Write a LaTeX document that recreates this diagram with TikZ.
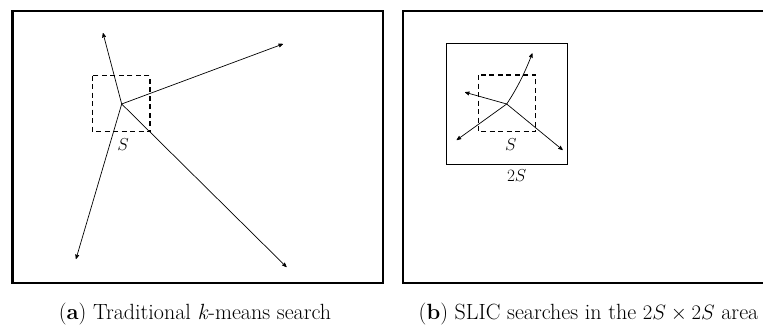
\documentclass[tikz,border=0pt]{standalone}
\usepackage{tikz}
\usetikzlibrary{arrows}
\tikzset{
    frame/.style={
           draw=black, line width=2.6pt,
           },
    searchbox/.style={
           draw=black, line width=0.8pt,
           },
    cellbox/.style={
           draw=black, line width=1.3pt,
           dash pattern=on 5pt off 3.5pt,
           },
    ray/.style={
           -stealth', line width=0.7pt,
           },
    lab/.style={
           font=\fontsize{19}{21}\selectfont,
           inner sep=1pt,
           },
    caption/.style={
           font=\fontsize{22}{25}\selectfont,
           inner sep=0pt, anchor=base,
           },
}
\begin{document}
\begin{tikzpicture}[x=1pt, y=-1pt, >=stealth']

 \useasboundingbox (0,0) rectangle (763,324);

 % (a) traditional k-means search
 \draw[frame] (12.5,11) rectangle (383,283);
 \draw[cellbox] (92.7,75.7) rectangle (150,131.7);
 \coordinate (cA) at (121.7,104);
 \coordinate (A1) at (103,33);
 \coordinate (A2) at (283,44);
 \coordinate (A3) at (76,259);
 \coordinate (A4) at (286.5,267);
 \foreach \e in {A1,A2,A3,A4}
   \draw[ray] (cA) -- (\e);
 \node[lab] (SA) at (123,145) {$S$};

 % (b) SLIC, 2S x 2S area
 \draw[frame] (403,11) rectangle (780,283);
 \draw[searchbox] (446.7,43.3) rectangle (567.3,164);
 \draw[cellbox] (478.3,75) rectangle (535.7,131.7);
 \coordinate (cB) at (506.7,104);
 \coordinate (B1) at (532.3,53.3);
 \coordinate (B2) at (465,92.3);
 \coordinate (B3) at (456.7,140);
 \coordinate (B4) at (562.7,150);
 \draw[ray] (cB) .. controls (516,90) and (524,75) .. (B1);
 \foreach \e in {B2,B3,B4}
   \draw[ray] (cB) -- (\e);
 \node[lab] (SB) at (510.7,144.5) {$S$};
 \node[lab] (SSB) at (516.7,176) {$2S$};

 % captions
 \node[caption] (capA) at (195,319) {(\textbf{a}) Traditional \textit{k}-means search};
 \node[caption] (capB) at (588.5,319) {(\textbf{b}) SLIC searches in the $2S \times 2S$ area};

\end{tikzpicture}
\end{document}
